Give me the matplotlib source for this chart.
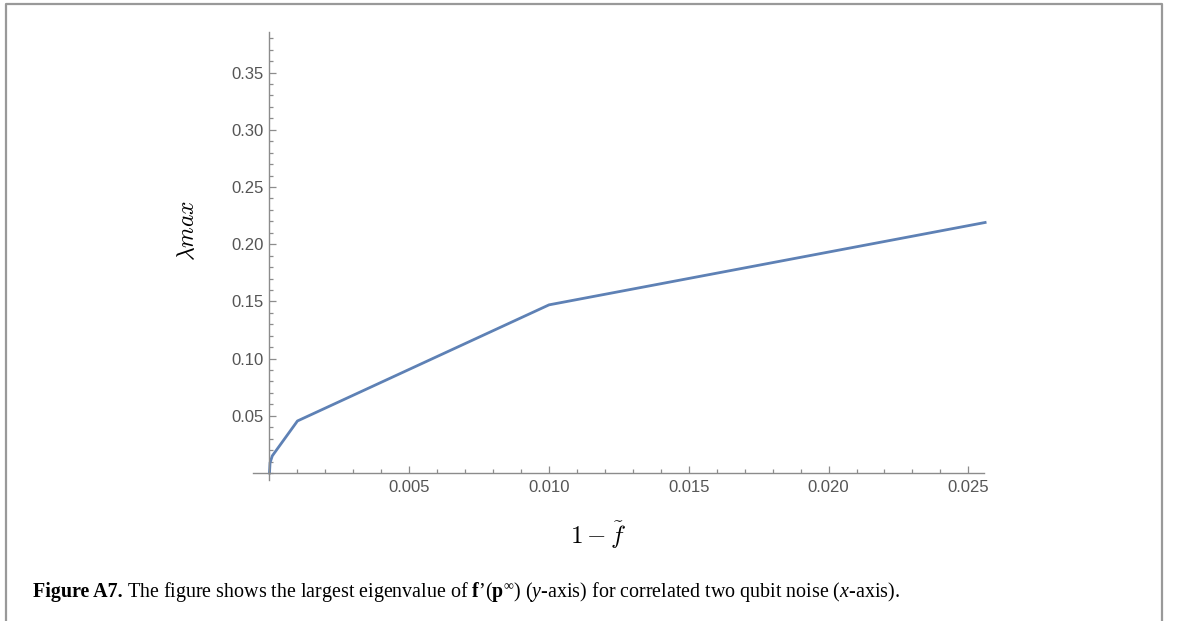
import numpy as np
import matplotlib
matplotlib.use('Agg')
import matplotlib.pyplot as plt
from matplotlib.lines import Line2D
from matplotlib.ticker import MultipleLocator, FixedLocator

# data
noise = [0.0, 0.00002, 0.0001, 0.001, 0.01, 0.0256]
lam_max = [0.0, 0.009, 0.015, 0.0455, 0.147, 0.219]

x_major = [0.005, 0.010, 0.015, 0.020, 0.025]
y_major = [0.05, 0.10, 0.15, 0.20, 0.25, 0.30, 0.35]

W, H = 1179, 621
fig = plt.figure(figsize=(W / 100, H / 100), dpi=100)
fig.patch.set_facecolor('white')

# axes box chosen so the data range lands where the reference has it
ax = fig.add_axes([253 / W, 1 - 480 / H, 731 / W, 448 / H])
ax.set_facecolor('none')
ax.plot(noise, lam_max, color='#5E81B5', lw=2.0, solid_joinstyle='round', clip_on=False)

ax.set_xlim(-0.00059, 0.02556)
ax.set_ylim(-0.0061, 0.3855)

axis_col = '#8c8c8c'
for side in ['top', 'right']:
    ax.spines[side].set_visible(False)
ax.spines['left'].set_position(('data', 0))
ax.spines['bottom'].set_position(('data', 0))
for side in ['left', 'bottom']:
    ax.spines[side].set_color(axis_col)
    ax.spines[side].set_linewidth(1.0)

ax.xaxis.set_major_locator(FixedLocator(x_major))
ax.yaxis.set_major_locator(FixedLocator(y_major))
ax.xaxis.set_minor_locator(MultipleLocator(0.001))
ax.yaxis.set_minor_locator(MultipleLocator(0.01))
ax.set_xticklabels(['%.3f' % v for v in x_major])
ax.set_yticklabels(['%.2f' % v for v in y_major])

ax.tick_params(which='both', direction='in', color=axis_col, width=0.9)
ax.tick_params(which='major', length=5)
ax.tick_params(which='minor', length=3)
ax.tick_params(axis='both', which='major', labelsize=12, labelcolor='#555555',
               labelfontfamily='Liberation Sans')
ax.tick_params(axis='x', which='major', pad=5)
ax.tick_params(axis='y', which='major', pad=4)

# axis labels, Mathematica style
fig.text(187 / W, 1 - 230 / H, r'$\lambda max$', rotation=90, ha='center', va='center',
         fontsize=17, math_fontfamily='cm')
fig.text(598 / W, 1 - 535 / H, r'$1-\tilde{f}$', ha='center', va='center',
         fontsize=18, math_fontfamily='cm')

# frame around the figure (open at the bottom)
fx0, fx1, fy1 = 6 / W, 1162 / W, 1 - 4 / H
fig.add_artist(Line2D([fx0, fx0, fx1, fx1], [0, fy1, fy1, 0], transform=fig.transFigure,
                      color='#999999', lw=1.6))

# caption built from pieces placed one after another
plt.rcParams['mathtext.fontset'] = 'custom'
plt.rcParams['mathtext.rm'] = 'Liberation Serif'
plt.rcParams['mathtext.it'] = 'Liberation Serif:italic'
plt.rcParams['mathtext.bf'] = 'Liberation Serif:bold'

cap_size = 14.4
cap_y = 1 - 597 / H
renderer = fig.canvas.get_renderer()
t1 = fig.text(33 / W, cap_y, 'Figure A7.', fontsize=cap_size, fontweight='bold',
              family='Liberation Serif', va='baseline')
bb = t1.get_window_extent(renderer)
rest = ("The figure shows the largest eigenvalue of $\\mathbf{f}$\u2019($\\mathbf{p}^{\\infty}$)"
        " ($y$-axis) for correlated two qubit noise ($x$-axis).")
fig.text((bb.x1 + 4) / W, cap_y, rest, fontsize=cap_size, family='Liberation Serif',
         va='baseline', math_fontfamily='custom')

fig.savefig('out.png', dpi=100, facecolor='white')
